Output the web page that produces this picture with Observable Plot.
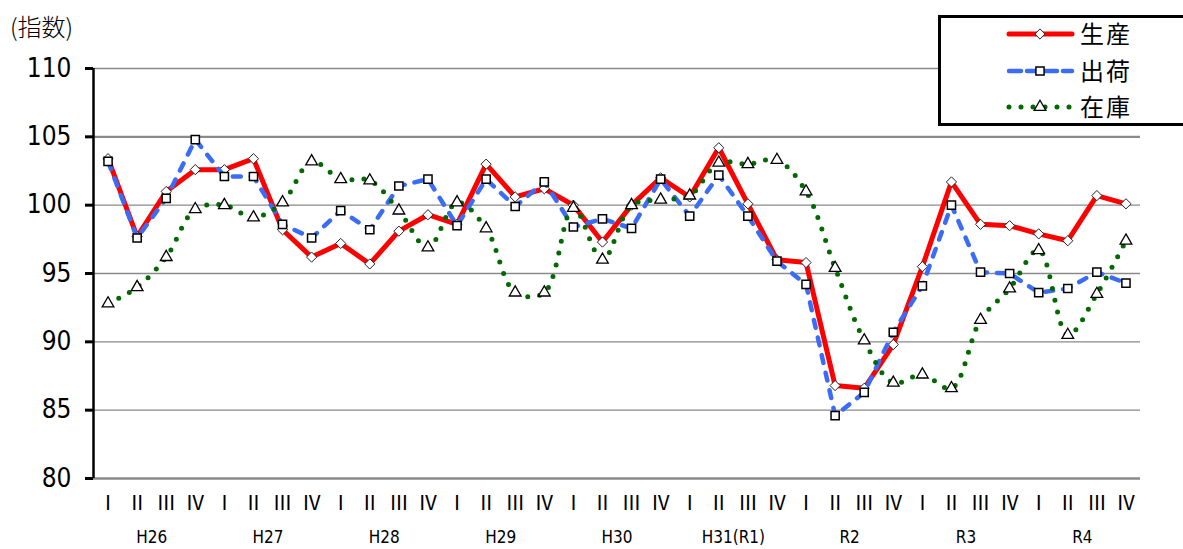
<!DOCTYPE html>
<html><head><meta charset="utf-8">
<script src="https://cdn.jsdelivr.net/npm/d3@7"></script>
<script src="https://cdn.jsdelivr.net/npm/@observablehq/plot@0.6"></script>
<style>
body{margin:0;background:#fff}
#wrap{position:relative;width:1183px;height:549px;overflow:hidden;background:#fff}
#title{position:absolute;left:10px;top:11px;font-size:24px;font-weight:300;font-family:"Noto Sans CJK JP",sans-serif;color:#000;line-height:30px;letter-spacing:0px}
#legend{position:absolute;left:0;top:0}
</style>
</head><body><div id="wrap"><div id="title">(指数)</div></div>
<script>
const quarters = ["Ⅰ","Ⅱ","Ⅲ","Ⅳ"];
const years = ["H26","H27","H28","H29","H30","H31(R1)","R2","R3","R4"];
const seriesNames = ["生産","出荷","在庫"];
const production = [103.4, 97.7, 101.0, 102.6, 102.6, 103.4, 98.2, 96.2, 97.2, 95.7, 98.1, 99.3, 98.6, 103.0, 100.6, 101.2, 100.0, 97.3, 100.0, 102.0, 100.6, 104.2, 100.1, 96.0, 95.8, 86.8, 86.6, 89.8, 95.5, 101.7, 98.6, 98.5, 97.9, 97.4, 100.7, 100.1];
const shipments = [103.2, 97.6, 100.5, 104.8, 102.1, 102.1, 98.6, 97.6, 99.6, 98.2, 101.4, 101.9, 98.5, 101.9, 99.9, 101.7, 98.4, 99.0, 98.3, 101.9, 99.2, 102.2, 99.2, 95.9, 94.2, 84.6, 86.3, 90.7, 94.1, 100.0, 95.1, 95.0, 93.6, 93.9, 95.1, 94.3];
const inventory = [92.8, 94.0, 96.2, 99.7, 100.0, 99.1, 100.2, 103.2, 101.9, 101.8, 99.6, 96.9, 100.2, 98.3, 93.6, 93.6, 99.8, 96.0, 100.0, 100.4, 100.7, 103.1, 103.0, 103.3, 101.0, 95.4, 90.1, 87.0, 87.6, 86.6, 91.6, 93.9, 96.7, 90.5, 93.5, 97.4];
const yTicks = [80, 85, 90, 95, 100, 105, 110];

const data = production.map((p, i) => ({i, q: quarters[i % 4], p, s: shipments[i], v: inventory[i]}));
const yearData = years.map((y, k) => ({x: 4 * k + 1.5, label: y}));

const RED = "#ff0000", BLUE = "#3a6cf6", GREEN = "#006a00";
const numFont = '"Liberation Sans Narrow","DejaVu Sans Condensed",sans-serif';

const chart = Plot.plot({
  width: 1183, height: 549,
  marginLeft: 93, marginRight: 43, marginTop: 68, marginBottom: 71,
  x: {type: "linear", domain: [-0.5, 35.5], axis: null},
  y: {domain: [80, 110], axis: null},
  style: {background: "transparent", overflow: "visible"},
  marks: [
    Plot.ruleY(yTicks.filter(t => t !== 105 && t !== 80), {stroke: "#8a8a8a", strokeWidth: 1.3}),
    Plot.ruleY([105], {stroke: "#8a8a8a", strokeWidth: 2.2}),
    Plot.ruleY([80], {stroke: "#8a8a8a", strokeWidth: 2.6}),
    Plot.lineY(data, {x: "i", y: "p", stroke: RED, strokeWidth: 5, strokeLinejoin: "round"}),
    Plot.dot(data, {x: "i", y: "p", symbol: "diamond2", r: 4.6, fill: "white", stroke: "#222", strokeWidth: 1}),
    Plot.lineY(data, {x: "i", y: "s", stroke: BLUE, strokeWidth: 4.5, strokeDasharray: "8,10", strokeLinecap: "round"}),
    Plot.dot(data, {x: "i", y: "s", symbol: "square2", r: 5.2, fill: "white", stroke: "#000", strokeWidth: 1.5}),
    Plot.lineY(data, {x: "i", y: "v", curve: "catmull-rom", stroke: GREEN, strokeWidth: 5, strokeDasharray: "0,12", strokeLinecap: "round"}),
    Plot.dot(data, {x: "i", y: "v", symbol: "triangle2", r: 5.6, fill: "white", stroke: "#000", strokeWidth: 1.3}),
    Plot.ruleX([-0.5], {stroke: "#000", strokeWidth: 2.5}),
    Plot.axisY({ticks: yTicks, tickSize: 8, tickPadding: 14, strokeWidth: 3, fontSize: 26, fontFamily: numFont, tickFormat: d => String(d)}),
    Plot.axisX({ticks: d3.range(36), tickSize: 0, tickPadding: 17, tickFormat: i => quarters[i % 4], fontSize: 20, fontFamily: '"Noto Sans CJK JP",sans-serif'}),
    Plot.text(yearData, {x: "x", text: "label", frameAnchor: "bottom", dy: 64, fontSize: 17, fontFamily: numFont, fill: "#000"})
  ]
});
document.getElementById("wrap").appendChild(chart);

// legend (overlay)
const leg = d3.select("#wrap").append("svg").attr("id", "legend").attr("width", 1183).attr("height", 549);
leg.append("rect").attr("x", 939.5).attr("y", 16.5).attr("width", 300).attr("height", 108)
  .attr("fill", "white").attr("stroke", "#000").attr("stroke-width", 3);
const rows = [
  {name: seriesNames[0], y: 34, stroke: RED, dash: null, cap: "round", w: 5, sym: d3.symbolDiamond2, size: 66, sw: 1, ss: "#222"},
  {name: seriesNames[1], y: 71, stroke: BLUE, dash: "12,6", cap: "round", w: 4.5, sym: d3.symbolSquare2, size: 85, sw: 1.5, ss: "#000"},
  {name: seriesNames[2], y: 107, stroke: GREEN, dash: "0,12", cap: "round", w: 5, sym: d3.symbolTriangle2, size: 98, sw: 1.3, ss: "#000"}
];
rows.forEach(r => {
  leg.append("line").attr("x1", 1009).attr("x2", 1072).attr("y1", r.y).attr("y2", r.y)
    .attr("stroke", r.stroke).attr("stroke-width", r.w).attr("stroke-linecap", r.cap)
    .attr("stroke-dasharray", r.dash);
  leg.append("path").attr("d", d3.symbol(r.sym, r.size)()).attr("transform", `translate(1040,${r.y})`)
    .attr("fill", "white").attr("stroke", r.ss).attr("stroke-width", r.sw);
  leg.append("text").attr("x", 1080).attr("y", r.y).attr("dy", "0.36em")
    .attr("font-family", '"Noto Sans CJK JP",sans-serif').attr("font-size", 24).attr("letter-spacing", 2)
    .text(r.name);
});
</script>
</body></html>
